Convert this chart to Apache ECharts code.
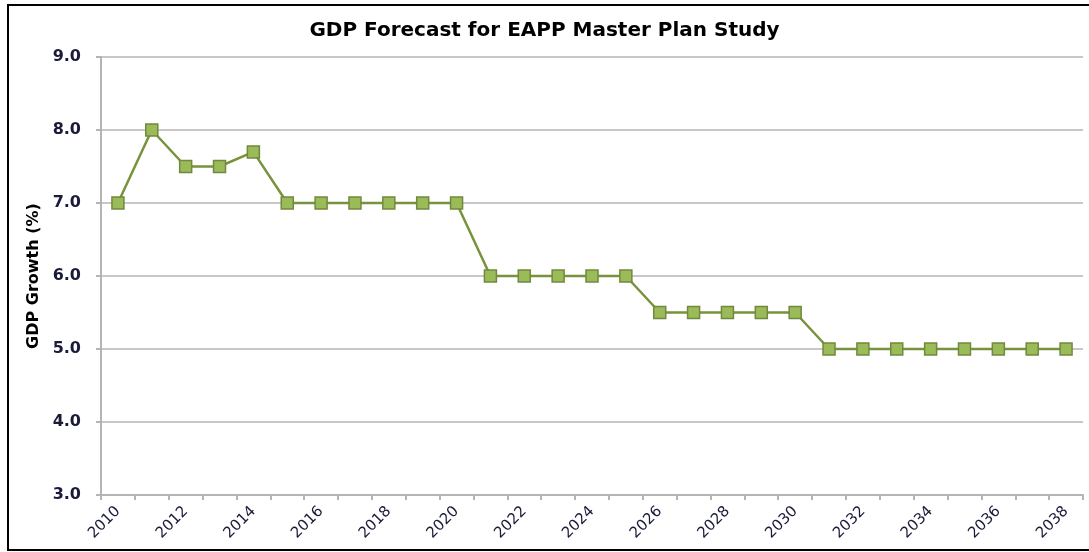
<!DOCTYPE html>
<html>
<head>
<meta charset="utf-8">
<script src="https://cdn.jsdelivr.net/npm/echarts@6/dist/echarts.min.js"></script>
<style>
  html, body { margin: 0; padding: 0; background: #fff; }
  #chart { width: 1089px; height: 552px; }
</style>
</head>
<body>
<div id="chart"></div>
<script>
// 年份
var years = ["2010", "2011", "2012", "2013", "2014", "2015", "2016", "2017", "2018", "2019",
  "2020", "2021", "2022", "2023", "2024", "2025", "2026", "2027", "2028", "2029",
  "2030", "2031", "2032", "2033", "2034", "2035", "2036", "2037", "2038"];
// GDP增长率 (%)
var gdpGrowth = [7.0, 8.0, 7.5, 7.5, 7.7, 7.0, 7.0, 7.0, 7.0, 7.0,
  7.0, 6.0, 6.0, 6.0, 6.0, 6.0, 5.5, 5.5, 5.5, 5.5,
  5.5, 5.0, 5.0, 5.0, 5.0, 5.0, 5.0, 5.0, 5.0];

var myChart = echarts.init(document.getElementById("chart"));
myChart.setOption({
  animation: false,
  // 外框
  graphic: [
    {
      type: "rect",
      shape: { x: 8, y: 5, width: 1200, height: 545 },
      style: { fill: "none", stroke: "#000", lineWidth: 2 }
    }
  ],
  title: {
    text: "GDP Forecast for EAPP Master Plan Study",
    left: "center",
    top: 16,
    textStyle: {
      fontFamily: "DejaVu Sans",
      fontWeight: "bold",
      fontSize: 20,
      color: "#000"
    }
  },
  grid: {
    left: 101,
    right: 6,
    top: 57,
    bottom: 57
  },
  xAxis: {
    type: "category",
    data: years,
    boundaryGap: true,
    axisLine: { lineStyle: { color: "#b4b4b4", width: 2 } },
    axisTick: { show: true, length: 5, interval: 0, lineStyle: { color: "#b4b4b4", width: 2 } },
    axisLabel: {
      interval: 1, // 隔一个显示
      rotate: 45,
      margin: 14,
      fontFamily: "DejaVu Sans",
      fontSize: 15,
      color: "#1a1a3a"
    },
    splitLine: { show: false }
  },
  yAxis: {
    type: "value",
    min: 3,
    max: 9,
    interval: 1,
    name: "GDP Growth (%)",
    nameLocation: "middle",
    nameGap: 59,
    nameTextStyle: {
      fontFamily: "DejaVu Sans",
      fontWeight: "bold",
      fontSize: 16,
      color: "#000"
    },
    axisLine: { show: true, lineStyle: { color: "#b4b4b4", width: 2 } },
    axisTick: { show: true, length: 5, lineStyle: { color: "#b4b4b4", width: 2 } },
    axisLabel: {
      margin: 20,
      fontFamily: "DejaVu Sans",
      fontWeight: "bold",
      fontSize: 16,
      color: "#1a1a3a",
      formatter: function (v) { return v.toFixed(1); }
    },
    splitLine: { lineStyle: { color: "#c8c8c8", width: 2 } }
  },
  series: [
    {
      name: "GDP Growth",
      type: "line",
      data: gdpGrowth,
      symbol: "rect",
      symbolSize: 12,
      lineStyle: { color: "#77933c", width: 2.5 },
      itemStyle: { color: "#9bbb59", borderColor: "#71893f", borderWidth: 1.5 }
    }
  ]
});
</script>
</body>
</html>
